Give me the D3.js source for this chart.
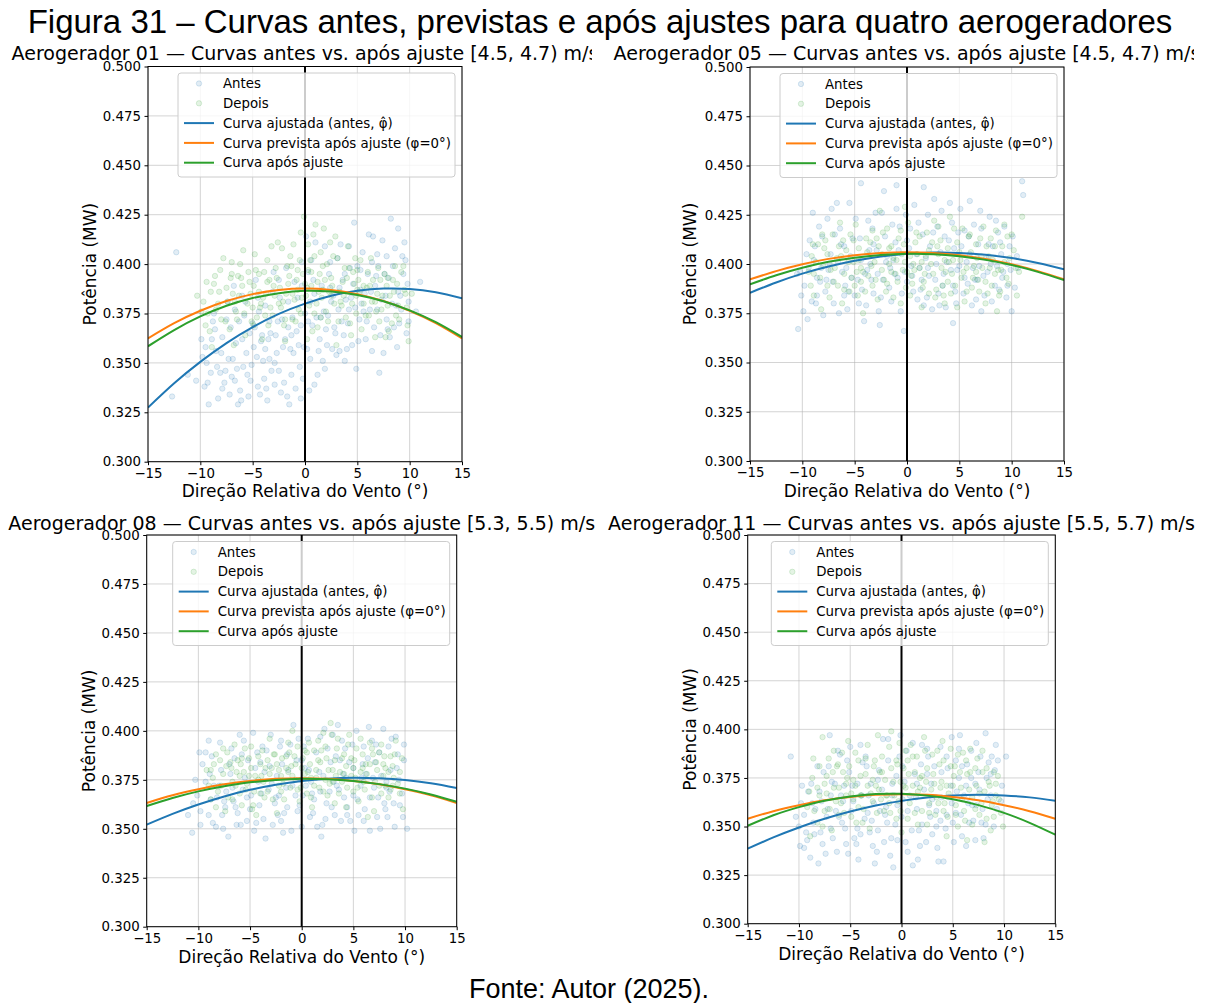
<!DOCTYPE html>
<html>
<head>
<meta charset="utf-8">
<script src="https://cdn.jsdelivr.net/npm/d3@7"></script>
<style>
  body { margin: 0; background: #fff; }
  svg { display: block; }
</style>
</head>
<body>
<svg id="fig" width="1210" height="1003"></svg>
<script>
// ---------- data ----------
const turbines = ["01", "05", "08", "11"];
const speedBins = ["[4.5, 4.7)", "[4.5, 4.7)", "[5.3, 5.5)", "[5.5, 5.7)"];
const xTicks = [-15, -10, -5, 0, 5, 10, 15];
const yTicks = [0.300, 0.325, 0.350, 0.375, 0.400, 0.425, 0.450, 0.475, 0.500];
const legendLabels = ["Antes", "Depois", "Curva ajustada (antes, \u03C6\u0302)", "Curva prevista após ajuste (\u03C6=0°)", "Curva após ajuste"];

// fitted curves sampled along the relative wind direction (°)
const curveAngles = [-15, -12.5, -10, -7.5, -5, -2.5, 0, 2.5, 5, 7.5, 10, 12.5, 15];

const ajustada01 = [0.3274, 0.3397, 0.3505, 0.3600, 0.3681, 0.3748, 0.3800, 0.3840, 0.3865, 0.3876, 0.3874, 0.3857, 0.3827];
const prevista01 = [0.3624, 0.3701, 0.3764, 0.3813, 0.3848, 0.3869, 0.3876, 0.3869, 0.3848, 0.3813, 0.3764, 0.3701, 0.3624];
const apos01     = [0.3584, 0.3666, 0.3735, 0.3789, 0.3828, 0.3853, 0.3865, 0.3861, 0.3844, 0.3812, 0.3766, 0.3706, 0.3631];

const ajustada05 = [0.3854, 0.3906, 0.3951, 0.3987, 0.4016, 0.4038, 0.4052, 0.4058, 0.4056, 0.4047, 0.4030, 0.4005, 0.3973];
const prevista05 = [0.3922, 0.3964, 0.3999, 0.4026, 0.4045, 0.4056, 0.4060, 0.4056, 0.4045, 0.4026, 0.3999, 0.3964, 0.3922];
const apos05     = [0.3897, 0.3943, 0.3981, 0.4011, 0.4032, 0.4046, 0.4052, 0.4050, 0.4039, 0.4021, 0.3995, 0.3960, 0.3918];

const ajustada08 = [0.3521, 0.3576, 0.3624, 0.3665, 0.3699, 0.3725, 0.3744, 0.3756, 0.3761, 0.3758, 0.3749, 0.3732, 0.3708];
const prevista08 = [0.3632, 0.3671, 0.3702, 0.3727, 0.3744, 0.3755, 0.3758, 0.3755, 0.3744, 0.3727, 0.3702, 0.3671, 0.3632];
const apos08     = [0.3616, 0.3657, 0.3691, 0.3717, 0.3737, 0.3749, 0.3755, 0.3753, 0.3744, 0.3728, 0.3705, 0.3675, 0.3638];

const ajustada11 = [0.3386, 0.3444, 0.3495, 0.3540, 0.3577, 0.3608, 0.3632, 0.3649, 0.3659, 0.3663, 0.3660, 0.3650, 0.3633];
const prevista11 = [0.3540, 0.3579, 0.3610, 0.3635, 0.3652, 0.3663, 0.3666, 0.3663, 0.3652, 0.3635, 0.3610, 0.3579, 0.3540];
const apos11     = [0.3504, 0.3558, 0.3600, 0.3633, 0.3655, 0.3667, 0.3668, 0.3659, 0.3640, 0.3610, 0.3570, 0.3519, 0.3458];

// measurements [direction °, power MW]
const antes01 = [[-9.6,.338],[-8.8,.371],[-8.1,.345],[-7.4,.381],[-6.9,.352],[-6.2,.336],[-5.8,.374],[-5.1,.349],[-4.7,.392],[-4.2,.361],[-3.6,.331],[-3.1,.386],[-2.7,.355],[-2.2,.372],[-1.8,.398],[-1.3,.344],[-0.8,.366],[-0.3,.389],[0.2,.357],[0.6,.402],[1.1,.373],[1.7,.351],[2.3,.395],[2.8,.368],[3.4,.410],[3.9,.382],[4.5,.359],[5.0,.399],[5.6,.376],[6.1,.415],[6.7,.389],[7.2,.364],[7.8,.404],[8.3,.380],[8.9,.418],[9.4,.395],[9.9,.371],[-9.9,.362],[-9.2,.329],[-8.5,.356],[-7.7,.340],[-7.1,.368],[-6.5,.347],[-6.0,.384],[-5.4,.333],[-4.9,.358],[-4.4,.376],[-3.9,.342],[-3.3,.365],[-2.9,.339],[-2.4,.383],[-1.9,.362],[-1.5,.329],[-1.0,.391],[-0.5,.348],[0.0,.375],[0.4,.336],[0.9,.385],[1.4,.362],[1.9,.409],[2.5,.381],[3.0,.354],[3.6,.392],[4.1,.370],[4.7,.421],[5.3,.387],[5.8,.362],[6.4,.401],[6.9,.377],[7.5,.355],[8.0,.393],[8.6,.408],[9.1,.384],[9.7,.365],[-10.4,.341],[-8.3,.332],[-7.9,.363],[-6.7,.377],[-5.6,.355],[-4.5,.338],[-3.8,.379],[-2.5,.346],[-1.6,.381],[-0.6,.359],[0.3,.396],[1.2,.344],[2.0,.367],[3.2,.377],[4.3,.398],[5.2,.372],[6.3,.386],[7.4,.412],[8.5,.368],[9.6,.402],[-12.7,.333],[-12.3,.406],[-11.2,.344],[10.6,.376],[11.0,.391],[7.1,.345],[-9.4,.350],[-6.4,.329],[-3.4,.352],[-0.9,.337],[1.6,.389],[4.9,.347],[8.2,.423],[-8.6,.367],[-7.2,.334],[-5.3,.365],[-4.0,.351],[-2.1,.358],[-1.2,.373],[0.7,.369],[2.6,.357],[3.7,.364],[5.5,.406],[6.6,.368],[7.7,.384],[9.2,.377],[-6.8,.389],[-3.0,.396],[0.1,.414],[2.2,.374],[4.4,.383],[6.0,.395],[8.8,.358],
  [-9.8,.353],[-9.3,.340],[-8.9,.362],[-8.4,.348],[-7.9,.337],[-7.5,.372],[-7.0,.343],[-6.6,.360],[-6.1,.331],[-5.7,.381],[-5.2,.341],[-4.8,.368],[-4.3,.334],[-3.8,.357],[-3.4,.371],[-2.9,.350],[-2.5,.392],[-2.0,.340],[-1.6,.368],[-1.1,.355],[-0.7,.383],[-0.2,.342],[0.3,.371],[0.8,.392],[1.3,.356],[1.8,.376],[2.4,.401],[2.9,.365],[3.3,.388],[3.8,.351],[4.2,.409],[4.8,.378],[5.3,.397],[5.9,.371],[6.4,.356],[6.9,.405],[7.3,.382],[7.9,.367],[8.4,.399],[8.9,.386],[9.5,.411],[9.9,.381],[-9.0,.345],[-8.0,.355],[-7.3,.352],[-6.3,.371],[-5.5,.344],[-4.6,.353],[-3.7,.337],[-2.8,.364],[-2.3,.335],[-1.4,.357],[-0.4,.369],[0.5,.352],[1.5,.373],[2.7,.384],[3.5,.371],[4.6,.390],[5.7,.385],[6.8,.394],[7.8,.372],[8.7,.379],[9.8,.390],[-5.9,.348],[-4.1,.364],[-1.7,.333],[0.9,.339],[2.1,.359],[3.1,.403],[5.1,.361],[6.2,.377],[7.6,.395],[-8.7,.375],[-6.0,.362],[-3.2,.346],[-0.1,.358],[1.0,.411],[4.0,.357],[6.5,.414],[9.0,.370],[-7.6,.346],[-4.5,.383],[-2.6,.371],[-0.3,.401],[1.9,.347],[3.3,.356],[5.4,.380],[8.1,.363],[-9.5,.358],[-5.0,.370],[-1.3,.364],[2.4,.388],[4.2,.377],[7.0,.399],[9.3,.404],[-3.5,.362],[0.5,.381],[-6.7,.341],[3.8,.395],[-0.4,.332]];
const depois01 = [[-9.7,.381],[-9.1,.366],[-8.6,.394],[-8.0,.372],[-7.5,.388],[-7.0,.401],[-6.6,.376],[-6.1,.393],[-5.7,.364],[-5.2,.385],[-4.8,.405],[-4.3,.378],[-3.9,.396],[-3.5,.369],[-3.0,.389],[-2.6,.411],[-2.1,.381],[-1.7,.399],[-1.2,.372],[-0.8,.392],[-0.4,.416],[0.1,.384],[0.5,.402],[0.9,.375],[1.4,.395],[1.8,.418],[2.3,.386],[2.7,.404],[3.2,.371],[3.6,.391],[4.1,.409],[4.5,.380],[5.0,.397],[5.4,.367],[5.9,.388],[6.3,.403],[6.8,.376],[7.2,.392],[7.7,.363],[8.1,.384],[8.6,.399],[9.0,.372],[9.5,.387],[9.9,.361],[-9.4,.391],[-8.3,.380],[-7.2,.367],[-6.3,.384],[-5.4,.396],[-4.6,.373],[-3.7,.385],[-2.8,.398],[-2.0,.369],[-1.0,.382],[-0.2,.395],[0.7,.366],[1.6,.383],[2.5,.393],[3.4,.381],[4.3,.370],[5.2,.386],[6.1,.374],[7.0,.398],[7.9,.379],[8.8,.390],[9.7,.378],[-8.9,.358],[-7.8,.403],[-6.8,.359],[-5.9,.407],[-4.1,.362],[-3.2,.409],[-1.4,.404],[-0.6,.377],[0.3,.410],[1.2,.391],[2.0,.376],[2.9,.414],[3.8,.398],[4.7,.390],[5.6,.380],[6.5,.392],[7.4,.384],[8.3,.370],[9.2,.396],[-0.1,.424],[1.0,.420],[-2.4,.388],[-4.9,.389],[-6.9,.385],[-9.9,.376],[0.2,.362],[3.0,.359],[-1.9,.361],[6.7,.363],[-10.3,.384],[10.2,.385],[-5.0,.378],[4.9,.375],[-3.3,.378],[2.1,.400],[-0.7,.387],[1.5,.406],[-1.5,.394],[0.6,.389],
  [-9.5,.369],[-9.0,.386],[-8.5,.377],[-8.1,.397],[-7.6,.371],[-7.1,.393],[-6.7,.381],[-6.2,.400],[-5.8,.375],[-5.3,.391],[-4.9,.369],[-4.4,.395],[-4.0,.383],[-3.6,.402],[-3.1,.374],[-2.7,.393],[-2.2,.408],[-1.8,.385],[-1.3,.399],[-0.9,.371],[-0.5,.402],[0.0,.390],[0.4,.379],[0.8,.415],[1.3,.386],[1.7,.399],[2.2,.371],[2.6,.389],[3.1,.403],[3.5,.379],[4.0,.393],[4.4,.364],[4.9,.384],[5.3,.402],[5.8,.374],[6.2,.389],[6.7,.381],[7.1,.371],[7.6,.395],[8.0,.366],[8.5,.386],[8.9,.379],[9.4,.399],[9.8,.369],[-8.7,.390],[-7.4,.381],[-6.0,.389],[-4.7,.397],[-3.4,.392],[-2.3,.378],[-1.1,.410],[-0.3,.383],[0.6,.396],[1.5,.373],[2.4,.411],[3.3,.386],[4.2,.398],[5.1,.392],[6.0,.396],[6.9,.385],[7.8,.389],[8.7,.374],[-9.3,.375],[-8.2,.386],[-6.5,.372],[-5.5,.380],[-3.8,.374],[-2.5,.380],[-1.6,.390],[-0.7,.397],[0.2,.388],[1.1,.380],[1.9,.392],[2.8,.380],[3.7,.384],[4.6,.396],[5.6,.389],[7.3,.377],[8.4,.392],[9.6,.385],[-7.0,.395],[-4.4,.386],[-1.9,.372],[0.9,.404],[3.9,.373],[6.4,.381],[-5.1,.371],[-2.9,.384],[1.2,.368],[4.8,.403],[-0.4,.375],[2.5,.384],[-6.4,.394],[-3.6,.391],[0.3,.397],[5.0,.387],[-1.2,.385],[1.7,.387],[-4.2,.380],[7.9,.393]];

const antes05 = [[-10.4,.367],[-9.8,.389],[-9.3,.412],[-8.7,.380],[-8.2,.398],[-7.6,.423],[-7.1,.391],[-6.5,.375],[-6.0,.409],[-5.5,.431],[-5.0,.384],[-4.4,.402],[-3.9,.379],[-3.3,.418],[-2.8,.395],[-2.2,.437],[-1.7,.388],[-1.1,.411],[-0.6,.376],[-0.1,.425],[0.4,.399],[1.0,.382],[1.5,.415],[2.1,.394],[2.6,.433],[3.2,.406],[3.7,.378],[4.3,.421],[4.8,.397],[5.4,.385],[5.9,.414],[6.5,.392],[7.0,.427],[7.6,.403],[8.1,.381],[8.7,.416],[9.2,.396],[9.8,.409],[10.3,.388],[11.0,.442],[11.1,.435],[-10.1,.384],[-9.5,.372],[-8.9,.402],[-8.4,.419],[-7.8,.386],[-7.3,.405],[-6.7,.431],[-6.2,.396],[-5.7,.377],[-5.2,.413],[-4.7,.392],[-4.1,.371],[-3.6,.407],[-3.0,.426],[-2.5,.383],[-2.0,.401],[-1.4,.420],[-0.9,.393],[-0.3,.366],[0.2,.408],[0.7,.430],[1.3,.387],[1.8,.403],[2.4,.377],[2.9,.419],[3.5,.395],[4.0,.412],[4.6,.386],[5.1,.428],[5.7,.401],[6.2,.379],[6.8,.410],[7.3,.394],[7.9,.424],[8.4,.389],[9.0,.405],[9.5,.383],[10.1,.414],[-4.4,.441],[-1.0,.440],[1.6,.439],[-8.0,.374],[-2.6,.369],[0.0,.391],[4.4,.370],[7.1,.376],[10.6,.398],[-9.0,.426],[-5.8,.398],[-3.2,.385],[3.0,.385],[5.5,.417],[8.6,.399],[-6.9,.415],[2.0,.425],[-1.9,.404],[6.0,.432],
  [-10.2,.396],[-9.6,.405],[-9.1,.381],[-8.6,.393],[-8.1,.414],[-7.5,.397],[-7.0,.380],[-6.4,.418],[-5.9,.389],[-5.4,.404],[-4.9,.423],[-4.3,.387],[-3.8,.397],[-3.2,.410],[-2.7,.376],[-2.1,.414],[-1.6,.398],[-1.0,.428],[-0.5,.385],[0.0,.412],[0.5,.394],[1.1,.421],[1.6,.379],[2.2,.409],[2.7,.392],[3.3,.427],[3.8,.401],[4.4,.389],[4.9,.416],[5.5,.393],[6.0,.405],[6.6,.382],[7.1,.418],[7.7,.396],[8.2,.409],[8.8,.387],[9.3,.419],[9.9,.397],[10.5,.404],[-9.9,.376],[-8.8,.409],[-7.7,.392],[-6.6,.401],[-5.6,.386],[-4.5,.413],[-3.4,.392],[-2.4,.426],[-1.3,.402],[-0.2,.396],[0.9,.405],[2.0,.398],[3.1,.379],[4.1,.431],[5.2,.409],[6.3,.398],[7.4,.384],[8.5,.422],[9.6,.389],[-7.2,.428],[-4.6,.380],[-2.9,.407],[-0.7,.419],[1.4,.392],[3.6,.414],[5.8,.390],[8.0,.400],[10.0,.376],[-10.5,.395],[-8.3,.391],[-6.0,.384],[-3.7,.422],[-1.5,.381],[0.6,.386],[2.8,.400],[4.7,.380],[6.9,.399],[9.1,.393],[-5.3,.393],[-1.2,.395],[2.5,.416],[6.4,.420],[-6.3,.410],[-3.5,.400],[0.3,.418],[4.2,.397],[7.8,.410],[-8.6,.384],[-2.3,.392],[1.9,.383],[5.0,.399],[8.9,.411],[-7.4,.400],[-0.8,.407],[3.4,.389],[6.7,.392],[-4.0,.395],[1.2,.398],[9.6,.400],[-9.4,.398],[4.5,.408]];
const depois05 = [[-9.4,.396],[-8.9,.384],[-8.5,.410],[-8.0,.399],[-7.6,.389],[-7.1,.415],[-6.7,.403],[-6.2,.380],[-5.8,.407],[-5.3,.393],[-4.9,.420],[-4.4,.398],[-4.0,.386],[-3.5,.411],[-3.1,.401],[-2.6,.427],[-2.2,.392],[-1.7,.408],[-1.3,.383],[-0.8,.413],[-0.4,.397],[0.1,.421],[0.5,.390],[1.0,.405],[1.4,.378],[1.9,.416],[2.3,.400],[2.8,.387],[3.2,.412],[3.7,.396],[4.1,.424],[4.6,.389],[5.0,.406],[5.5,.381],[5.9,.414],[6.4,.399],[6.8,.392],[7.3,.419],[7.7,.385],[8.2,.402],[8.6,.376],[9.1,.409],[9.5,.393],[10.0,.415],[10.4,.398],[11.0,.424],[-9.1,.404],[-8.2,.377],[-7.3,.397],[-6.4,.421],[-5.5,.386],[-4.6,.408],[-3.7,.394],[-2.8,.382],[-1.9,.418],[-1.0,.402],[-0.1,.388],[0.8,.411],[1.7,.395],[2.6,.422],[3.5,.384],[4.4,.402],[5.3,.418],[6.2,.388],[7.1,.404],[8.0,.413],[8.9,.386],[9.8,.403],[-7.9,.408],[-6.0,.395],[-4.2,.375],[-2.4,.405],[-0.6,.380],[1.2,.398],[3.0,.405],[4.8,.378],[6.6,.410],[8.4,.395],[-5.1,.401],[-0.2,.429],[2.1,.385],[5.7,.398],[7.5,.380],[-3.3,.417],[0.3,.404],[3.9,.391],[-1.5,.396],[9.3,.420],
  [-9.2,.389],[-8.7,.401],[-8.3,.393],[-7.8,.412],[-7.4,.383],[-6.9,.398],[-6.5,.409],[-6.0,.387],[-5.6,.401],[-5.1,.412],[-4.7,.384],[-4.2,.396],[-3.8,.406],[-3.3,.389],[-2.9,.413],[-2.4,.397],[-2.0,.386],[-1.5,.409],[-1.1,.395],[-0.6,.417],[-0.2,.401],[0.3,.384],[0.7,.397],[1.2,.414],[1.6,.391],[2.1,.407],[2.5,.395],[3.0,.419],[3.4,.389],[3.9,.408],[4.3,.395],[4.8,.411],[5.2,.393],[5.7,.386],[6.1,.406],[6.6,.396],[7.0,.413],[7.5,.391],[7.9,.398],[8.4,.409],[8.8,.384],[9.3,.401],[9.7,.390],[10.2,.407],[10.7,.396],[-8.9,.395],[-7.6,.405],[-6.6,.389],[-5.4,.415],[-4.4,.391],[-3.4,.399],[-2.3,.416],[-1.3,.403],[-0.3,.410],[0.6,.400],[1.5,.388],[2.4,.411],[3.3,.398],[4.2,.385],[5.1,.402],[6.0,.415],[6.9,.386],[7.8,.404],[8.7,.397],[9.6,.414],[-8.1,.415],[-6.3,.404],[-4.8,.396],[-3.0,.392],[-1.7,.400],[0.0,.396],[1.8,.404],[3.6,.402],[5.4,.396],[7.2,.398],[9.0,.397],[-7.0,.391],[-5.0,.389],[-2.7,.409],[-0.9,.391],[0.9,.416],[2.7,.383],[4.5,.418],[6.3,.393],[8.1,.389],[10.5,.384],[-9.0,.410],[-3.9,.413],[-0.5,.405],[2.9,.409],[6.7,.403],[-6.1,.412],[-1.9,.390],[1.4,.401],[4.0,.401],[8.5,.417],[-4.6,.402],[0.4,.394],[3.6,.380],[7.6,.409]];

const antes08 = [[-10.6,.348],[-10.1,.367],[-9.6,.383],[-9.0,.357],[-8.5,.372],[-7.9,.394],[-7.4,.361],[-6.9,.378],[-6.3,.352],[-5.8,.388],[-5.3,.366],[-4.7,.399],[-4.2,.374],[-3.7,.355],[-3.1,.382],[-2.6,.363],[-2.1,.392],[-1.5,.371],[-1.0,.349],[-0.5,.385],[0.1,.367],[0.6,.396],[1.1,.358],[1.7,.379],[2.2,.401],[2.7,.369],[3.3,.387],[3.8,.354],[4.3,.376],[4.9,.393],[5.4,.365],[5.9,.383],[6.5,.402],[7.0,.371],[7.5,.389],[8.1,.360],[8.6,.380],[9.1,.397],[9.7,.368],[-9.8,.359],[-8.7,.387],[-7.6,.350],[-6.6,.364],[-5.5,.376],[-4.4,.353],[-3.4,.390],[-2.3,.357],[-1.3,.380],[-0.2,.362],[0.9,.374],[2.0,.352],[3.0,.398],[4.1,.366],[5.1,.349],[6.2,.378],[7.3,.356],[8.4,.392],[9.4,.375],[-11.0,.357],[10.2,.350],[-8.2,.366],[-6.0,.398],[-3.9,.368],[-1.8,.348],[0.3,.381],[2.4,.363],[4.6,.384],[6.8,.395],[8.9,.363],[-5.0,.360],[-2.9,.373],[1.4,.389],[3.6,.370],[5.7,.372],[7.9,.401],[-7.1,.346],[-0.8,.403],[1.9,.346],[6.0,.354],[9.9,.385],[-4.0,.384],[-9.3,.374],[4.4,.357],[0.0,.351],[-2.0,.395],[3.5,.403],[7.7,.377],[-6.5,.386],[8.2,.371],
  [-10.3,.375],[-9.8,.352],[-9.3,.389],[-8.8,.365],[-8.3,.351],[-7.8,.380],[-7.3,.369],[-6.8,.391],[-6.2,.358],[-5.7,.370],[-5.2,.385],[-4.6,.349],[-4.1,.362],[-3.6,.379],[-3.0,.398],[-2.5,.366],[-2.0,.354],[-1.4,.388],[-0.9,.372],[-0.4,.359],[0.2,.392],[0.7,.380],[1.2,.365],[1.8,.397],[2.3,.355],[2.8,.384],[3.4,.372],[3.9,.395],[4.4,.361],[5.0,.381],[5.5,.357],[6.0,.392],[6.6,.366],[7.1,.384],[7.6,.350],[8.2,.374],[8.7,.396],[9.2,.381],[9.8,.356],[-9.9,.389],[-8.9,.378],[-7.7,.357],[-6.7,.371],[-5.6,.395],[-4.5,.381],[-3.5,.345],[-2.4,.377],[-1.4,.361],[-0.3,.396],[0.8,.356],[1.8,.369],[2.9,.361],[4.0,.378],[5.0,.367],[6.1,.360],[7.2,.393],[8.3,.356],[9.3,.388],[-8.0,.372],[-5.9,.352],[-3.8,.392],[-1.7,.358],[0.4,.372],[2.5,.391],[4.7,.354],[6.9,.376],[9.0,.351],[-10.5,.363],[-7.0,.383],[-4.9,.367],[-2.8,.352],[-0.6,.367],[1.5,.351],[3.7,.385],[5.8,.376],[8.0,.363],[-6.4,.361],[-3.2,.370],[0.0,.385],[3.2,.357],[6.4,.386],[9.5,.362],[-9.0,.395],[-5.3,.354],[-1.1,.393],[2.1,.377],[5.3,.400],[8.5,.369],[-7.5,.364],[-4.3,.389],[-1.9,.383],[1.0,.368],[4.2,.391],[7.4,.366],[-8.6,.353],[-2.2,.367],[3.1,.374],[6.6,.349],[-0.1,.375],[9.9,.393]];
const depois08 = [[-9.2,.380],[-8.8,.365],[-8.3,.388],[-7.8,.372],[-7.4,.359],[-6.9,.384],[-6.5,.393],[-6.0,.368],[-5.6,.379],[-5.1,.386],[-4.7,.362],[-4.2,.375],[-3.8,.390],[-3.3,.369],[-2.9,.381],[-2.4,.358],[-2.0,.377],[-1.5,.387],[-1.1,.371],[-0.6,.383],[-0.2,.364],[0.3,.378],[0.7,.394],[1.2,.372],[1.6,.385],[2.1,.399],[2.5,.367],[3.0,.380],[3.4,.391],[3.9,.374],[4.3,.361],[4.8,.386],[5.2,.376],[5.7,.396],[6.1,.370],[6.6,.383],[7.0,.359],[7.5,.389],[7.9,.377],[8.4,.366],[8.8,.382],[9.3,.373],[9.8,.360],[-8.6,.376],[-7.6,.391],[-6.7,.374],[-5.8,.362],[-4.9,.381],[-4.0,.368],[-3.1,.396],[-2.2,.372],[-1.3,.379],[-0.4,.392],[0.5,.368],[1.4,.380],[2.3,.375],[3.2,.363],[4.1,.388],[5.0,.369],[5.9,.381],[6.8,.391],[7.7,.368],[8.6,.387],[9.5,.379],[-7.1,.366],[-5.3,.373],[-3.5,.381],[-1.7,.365],[0.1,.386],[1.9,.390],[3.7,.379],[5.5,.364],[7.3,.380],[9.1,.395],[-6.2,.385],[-2.6,.388],[1.0,.361],[4.6,.398],[8.1,.372],[-0.9,.400],[2.8,.404],[-4.4,.357],[6.4,.356],[0.9,.376],
  [-9.0,.372],[-8.5,.383],[-8.1,.369],[-7.6,.378],[-7.2,.389],[-6.7,.365],[-6.3,.379],[-5.8,.386],[-5.4,.370],[-4.9,.392],[-4.5,.377],[-4.0,.383],[-3.6,.366],[-3.1,.378],[-2.7,.388],[-2.2,.380],[-1.8,.373],[-1.3,.394],[-0.9,.377],[-0.4,.370],[0.0,.381],[0.5,.389],[0.9,.366],[1.4,.376],[1.8,.384],[2.3,.392],[2.7,.373],[3.2,.385],[3.6,.368],[4.1,.378],[4.5,.393],[5.0,.381],[5.4,.371],[5.9,.388],[6.3,.378],[6.8,.366],[7.2,.384],[7.7,.393],[8.1,.381],[8.6,.370],[9.0,.388],[9.5,.368],[-8.3,.361],[-7.3,.382],[-6.4,.372],[-5.5,.391],[-4.6,.369],[-3.7,.374],[-2.8,.365],[-1.9,.386],[-1.0,.382],[-0.1,.371],[0.8,.383],[1.7,.371],[2.6,.380],[3.5,.396],[4.4,.371],[5.3,.391],[6.2,.383],[7.1,.374],[8.0,.387],[8.9,.376],[9.7,.386],[-7.9,.385],[-6.0,.377],[-4.2,.387],[-2.4,.383],[-0.6,.375],[1.2,.390],[3.0,.374],[4.8,.377],[6.6,.394],[8.4,.379],[-5.1,.377],[-3.3,.385],[-1.5,.381],[0.3,.390],[2.1,.369],[3.9,.386],[5.7,.379],[7.5,.372],[-6.8,.381],[-2.0,.369],[1.6,.395],[5.1,.385],[8.8,.372],[-4.8,.360],[-0.7,.387],[2.4,.386],[6.0,.374],[-3.9,.377],[0.6,.379],[4.3,.382],[7.9,.383],[-1.2,.389],[2.9,.398],[-5.9,.383],[3.3,.377],[6.9,.388],[-8.8,.380]];

const antes11 = [[-10.0,.350],[-9.5,.339],[-9.1,.368],[-8.6,.352],[-8.1,.331],[-7.6,.378],[-7.2,.359],[-6.7,.344],[-6.2,.389],[-5.7,.363],[-5.2,.336],[-4.8,.371],[-4.3,.349],[-3.8,.383],[-3.3,.357],[-2.8,.340],[-2.3,.374],[-1.8,.395],[-1.4,.352],[-0.9,.366],[-0.4,.343],[0.1,.381],[0.6,.358],[1.1,.330],[1.5,.372],[2.0,.351],[2.5,.390],[3.0,.364],[3.5,.339],[3.9,.378],[4.4,.356],[4.9,.396],[5.4,.368],[5.9,.345],[6.4,.382],[6.9,.361],[7.3,.393],[7.8,.352],[8.3,.375],[8.8,.386],[9.3,.359],[9.8,.371],[-9.8,.362],[-8.9,.334],[-7.9,.347],[-7.0,.397],[-6.1,.355],[-5.1,.378],[-4.2,.333],[-3.2,.366],[-2.3,.348],[-1.3,.384],[-0.4,.361],[0.6,.337],[1.5,.359],[2.5,.377],[3.4,.350],[4.4,.386],[5.3,.357],[6.3,.371],[7.2,.343],[8.2,.398],[9.1,.379],[-8.4,.359],[-6.5,.372],[-4.6,.344],[-2.7,.362],[-0.8,.329],[1.1,.393],[3.0,.346],[4.9,.362],[6.8,.389],[8.7,.366],[-5.5,.349],[-1.6,.356],[2.2,.369],[5.9,.381],[-7.4,.336],[-3.6,.354],[0.3,.373],[4.1,.332],[7.6,.369],[10.2,.386],[-10.8,.386],[-9.3,.347],[-0.1,.397],[2.8,.355],[5.6,.390],[8.0,.344],[-4.0,.392],[-6.9,.366],[1.8,.340],[6.6,.352],
  [-10.3,.355],[-9.7,.371],[-9.2,.343],[-8.7,.362],[-8.2,.381],[-7.7,.341],[-7.3,.355],[-6.8,.373],[-6.3,.337],[-5.8,.352],[-5.3,.384],[-4.9,.358],[-4.4,.341],[-3.9,.366],[-3.4,.381],[-2.9,.353],[-2.4,.337],[-1.9,.369],[-1.5,.360],[-1.0,.344],[-0.5,.376],[0.0,.355],[0.5,.389],[1.0,.348],[1.4,.365],[1.9,.382],[2.4,.342],[2.9,.372],[3.4,.358],[3.8,.391],[4.3,.349],[4.8,.371],[5.3,.384],[5.8,.356],[6.3,.340],[6.8,.375],[7.3,.361],[7.7,.386],[8.2,.351],[8.7,.377],[9.2,.392],[9.7,.363],[-9.9,.340],[-8.8,.372],[-7.8,.363],[-6.9,.349],[-5.9,.366],[-5.0,.391],[-4.0,.346],[-3.0,.372],[-2.1,.358],[-1.1,.335],[-0.2,.386],[0.8,.366],[1.7,.348],[2.7,.361],[3.6,.332],[4.6,.365],[5.6,.375],[6.5,.362],[7.5,.378],[8.4,.364],[9.4,.384],[-8.5,.346],[-6.4,.358],[-4.3,.372],[-2.6,.331],[-0.6,.351],[1.3,.377],[3.2,.381],[5.1,.342],[7.0,.353],[9.0,.350],[-7.1,.381],[-5.4,.341],[-3.5,.386],[-1.7,.342],[0.1,.364],[2.0,.392],[3.8,.353],[5.7,.397],[7.9,.359],[-9.5,.356],[-6.0,.387],[-2.2,.379],[1.6,.333],[4.5,.380],[8.5,.383],[-4.7,.363],[-0.9,.372],[2.6,.386],[6.1,.366],[-8.0,.368],[-3.1,.347],[0.4,.342],[3.9,.365],[7.2,.372],[-5.6,.371],[-1.3,.395],[5.0,.352]];
const depois11 = [[-9.2,.360],[-8.7,.375],[-8.2,.352],[-7.7,.396],[-7.3,.367],[-6.8,.348],[-6.3,.381],[-5.9,.362],[-5.4,.372],[-4.9,.355],[-4.5,.388],[-4.0,.366],[-3.5,.377],[-3.1,.349],[-2.6,.384],[-2.2,.369],[-1.7,.358],[-1.2,.391],[-0.8,.373],[-0.3,.363],[0.2,.380],[0.6,.354],[1.1,.386],[1.6,.368],[2.0,.376],[2.5,.351],[3.0,.387],[3.4,.365],[3.9,.373],[4.4,.345],[4.8,.381],[5.3,.361],[5.8,.370],[6.2,.353],[6.7,.378],[7.2,.359],[7.6,.367],[8.1,.342],[8.6,.371],[9.0,.355],[9.5,.364],[9.9,.350],[-8.9,.345],[-8.0,.366],[-7.1,.385],[-6.1,.356],[-5.2,.394],[-4.2,.360],[-3.3,.371],[-2.3,.397],[-1.4,.366],[-0.5,.384],[0.4,.370],[1.3,.357],[2.3,.389],[3.2,.372],[4.1,.358],[5.1,.376],[6.0,.388],[6.9,.365],[7.9,.378],[8.8,.361],[-7.5,.358],[-5.7,.378],[-3.8,.352],[-1.9,.378],[0.0,.347],[1.8,.375],[3.7,.382],[5.5,.350],[7.4,.385],[9.2,.372],[-6.6,.370],[-2.8,.363],[0.9,.392],[4.6,.367],[8.3,.354],[-4.7,.374],[-0.1,.358],[2.7,.362],[6.4,.343],[-1.0,.399],
  [-9.0,.368],[-8.5,.358],[-8.0,.381],[-7.5,.372],[-7.0,.359],[-6.6,.389],[-6.1,.370],[-5.6,.357],[-5.1,.381],[-4.7,.364],[-4.2,.384],[-3.7,.359],[-3.3,.392],[-2.8,.374],[-2.4,.357],[-1.9,.386],[-1.5,.366],[-1.0,.380],[-0.5,.354],[-0.1,.373],[0.4,.389],[0.8,.362],[1.3,.378],[1.8,.370],[2.2,.396],[2.7,.357],[3.1,.377],[3.6,.362],[4.1,.384],[4.5,.355],[5.0,.371],[5.5,.387],[5.9,.364],[6.4,.377],[6.9,.351],[7.3,.371],[7.8,.362],[8.3,.380],[8.7,.348],[9.2,.366],[9.7,.357],[-8.6,.385],[-7.7,.350],[-6.7,.378],[-5.8,.388],[-4.9,.367],[-4.0,.376],[-3.0,.367],[-2.1,.378],[-1.2,.362],[-0.2,.393],[0.7,.377],[1.6,.351],[2.5,.380],[3.5,.389],[4.4,.371],[5.3,.356],[6.3,.384],[7.2,.380],[8.1,.368],[9.0,.378],[-8.2,.370],[-6.4,.363],[-4.4,.352],[-2.5,.371],[-0.7,.366],[1.1,.371],[2.9,.369],[4.8,.390],[6.6,.369],[8.5,.373],[-7.3,.376],[-5.4,.366],[-3.5,.385],[-1.6,.374],[0.2,.371],[2.0,.358],[3.8,.370],[5.7,.378],[7.6,.356],[-6.2,.382],[-2.7,.381],[0.6,.384],[4.2,.362],[7.9,.389],[-4.5,.371],[-1.1,.357],[2.4,.373],[6.1,.358],[9.4,.376],[-3.9,.366],[-0.4,.382],[3.3,.356],[5.2,.381],[8.9,.363],[-5.3,.375],[1.5,.386],[4.0,.394],[-2.0,.364],[6.7,.390]];

const antesSeries = [antes01, antes05, antes08, antes11];
const depoisSeries = [depois01, depois05, depois08, depois11];
const ajustadaSeries = [ajustada01, ajustada05, ajustada08, ajustada11];
const previstaSeries = [prevista01, prevista05, prevista08, prevista11];
const aposSeries = [apos01, apos05, apos08, apos11];

// ---------- layout & style ----------
const frames = [
  { left: 148,   right: 462,    top: 66.5, bottom: 461.7, titleY: 60,  clipX0: 0,   clipX1: 592,  ylabX: 90,   xlabY: 491 },
  { left: 750,   right: 1064,   top: 67,   bottom: 461,   titleY: 60,  clipX0: 600, clipX1: 1194, ylabX: 690,  xlabY: 491 },
  { left: 146.7, right: 456.7,  top: 535,  bottom: 926.7, titleY: 530, clipX0: 0,   clipX1: 600,  ylabX: 89.5, xlabY: 957 },
  { left: 747.7, right: 1055.3, top: 535,  bottom: 923.7, titleY: 530, clipX0: 600, clipX1: 1210, ylabX: 690,  xlabY: 954.5 }
];
const C_BLUE = "#1f77b4", C_ORANGE = "#ff7f0e", C_GREEN = "#2ca02c";
const FONT = "'DejaVu Sans', sans-serif";
const ARIAL = "'Liberation Sans', Arial, sans-serif";
const fmtX = d => (d < 0 ? "\u2212" + Math.abs(d) : String(d));

const svg = d3.select("#fig");
svg.append("rect").attr("width", 1210).attr("height", 1003).attr("fill", "#fff");
const defs = svg.append("defs");

frames.forEach((f, i) => {
  const x = d3.scaleLinear().domain([-15, 15]).range([f.left, f.right]);
  const y = d3.scaleLinear().domain([0.3, 0.5]).range([f.bottom, f.top]);
  const g = svg.append("g");

  defs.append("clipPath").attr("id", "plot" + i)
    .append("rect").attr("x", f.left).attr("y", f.top)
    .attr("width", f.right - f.left).attr("height", f.bottom - f.top);
  defs.append("clipPath").attr("id", "ttl" + i)
    .append("rect").attr("x", f.clipX0).attr("y", f.titleY - 30)
    .attr("width", f.clipX1 - f.clipX0).attr("height", 40);

  // grid
  const grid = g.append("g").attr("stroke", "#b0b0b0").attr("stroke-opacity", 0.55).attr("stroke-width", 1);
  grid.selectAll("line.gx").data(xTicks).join("line")
    .attr("x1", d => x(d)).attr("x2", d => x(d)).attr("y1", f.top).attr("y2", f.bottom);
  grid.selectAll("line.gy").data(yTicks).join("line")
    .attr("x1", f.left).attr("x2", f.right).attr("y1", d => y(d)).attr("y2", d => y(d));

  const plot = g.append("g").attr("clip-path", `url(#plot${i})`);

  // scatter
  const drawDots = (pts, color) => plot.append("g")
    .selectAll("circle").data(pts).join("circle")
    .attr("cx", d => x(d[0])).attr("cy", d => y(d[1])).attr("r", 2.7)
    .attr("fill", color).attr("fill-opacity", 0.13)
    .attr("stroke", color).attr("stroke-opacity", 0.16).attr("stroke-width", 1);
  drawDots(antesSeries[i], C_BLUE);
  drawDots(depoisSeries[i], C_GREEN);

  // curves
  const line = d3.line().x((d, k) => x(curveAngles[k])).y(d => y(d)).curve(d3.curveNatural);
  [[ajustadaSeries[i], C_BLUE], [previstaSeries[i], C_ORANGE], [aposSeries[i], C_GREEN]].forEach(([vals, c]) => {
    plot.append("path").datum(vals).attr("d", line)
      .attr("fill", "none").attr("stroke", c).attr("stroke-width", 2);
  });

  // zero-direction reference line
  plot.append("line").attr("x1", x(0)).attr("x2", x(0)).attr("y1", f.top).attr("y2", f.bottom)
    .attr("stroke", "#000").attr("stroke-width", 2);

  // frame
  g.append("rect").attr("x", f.left).attr("y", f.top)
    .attr("width", f.right - f.left).attr("height", f.bottom - f.top)
    .attr("fill", "none").attr("stroke", "#000").attr("stroke-width", 1);

  // axes
  const ax = g.append("g").attr("transform", `translate(0,${f.bottom})`)
    .call(d3.axisBottom(x).tickValues(xTicks).tickFormat(fmtX).tickSize(3.5).tickPadding(3.5));
  const ay = g.append("g").attr("transform", `translate(${f.left},0)`)
    .call(d3.axisLeft(y).tickValues(yTicks).tickFormat(d3.format(".3f")).tickSize(3.5).tickPadding(3.5));
  [ax, ay].forEach(a => {
    a.select(".domain").remove();
    a.selectAll("text").attr("font-family", FONT).attr("font-size", 13.33).attr("fill", "#000");
    a.selectAll("line").attr("stroke", "#000");
  });

  // axis labels
  g.append("text").attr("x", (f.left + f.right) / 2).attr("y", f.xlabY).attr("dy", "0.35em")
    .attr("text-anchor", "middle").attr("font-family", FONT).attr("font-size", 17)
    .text("Direção Relativa do Vento (°)");
  g.append("text").attr("transform", `translate(${f.ylabX},${(f.top + f.bottom) / 2}) rotate(-90)`)
    .attr("dy", "0.35em").attr("text-anchor", "middle").attr("font-family", FONT).attr("font-size", 17)
    .text("Potência (MW)");

  // legend (upper right)
  const lw = 277, lh = 104;
  const lx = f.right - 7 - lw, ly = f.top + 6.5;
  const lg = g.append("g");
  lg.append("rect").attr("x", lx).attr("y", ly).attr("width", lw).attr("height", lh)
    .attr("rx", 3).attr("fill", "#fff").attr("fill-opacity", 0.8)
    .attr("stroke", "#cccccc").attr("stroke-width", 1);
  const rowY = k => ly + 10.5 + k * 19.8;
  const handles = [C_BLUE, C_GREEN, C_BLUE, C_ORANGE, C_GREEN];
  legendLabels.forEach((lab, k) => {
    if (k < 2) {
      lg.append("circle").attr("cx", lx + 21).attr("cy", rowY(k)).attr("r", 2.7)
        .attr("fill", handles[k]).attr("fill-opacity", 0.13)
        .attr("stroke", handles[k]).attr("stroke-opacity", 0.16);
    } else {
      lg.append("line").attr("x1", lx + 6).attr("x2", lx + 36).attr("y1", rowY(k)).attr("y2", rowY(k))
        .attr("stroke", handles[k]).attr("stroke-width", 2);
    }
    lg.append("text").attr("x", lx + 45).attr("y", rowY(k)).attr("dy", "0.35em")
      .attr("font-family", FONT).attr("font-size", 13.33).text(lab);
  });

  // panel title
  g.append("text").attr("clip-path", `url(#ttl${i})`)
    .attr("x", (f.left + f.right) / 2).attr("y", f.titleY)
    .attr("text-anchor", "middle").attr("font-family", FONT).attr("font-size", 19)
    .text(`Aerogerador ${turbines[i]} \u2014 Curvas antes vs. após ajuste ${speedBins[i]} m/s`);
});

// figure caption and source
svg.append("text").attr("x", 600).attr("y", 33).attr("text-anchor", "middle")
  .attr("font-family", ARIAL).attr("font-size", 33)
  .text("Figura 31 \u2013 Curvas antes, previstas e após ajustes para quatro aerogeradores");
svg.append("text").attr("x", 589).attr("y", 998).attr("text-anchor", "middle")
  .attr("font-family", ARIAL).attr("font-size", 27)
  .text("Fonte: Autor (2025).");
</script>
</body>
</html>
